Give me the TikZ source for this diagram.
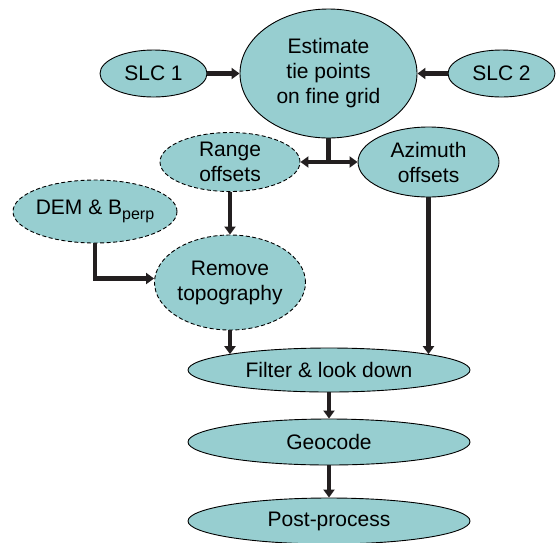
\documentclass[tikz,border=0pt]{standalone}
\usepackage{fontspec}
\setmainfont{Liberation Sans}
\usetikzlibrary{shapes.geometric,arrows.meta,calc}
\definecolor{tealfill}{RGB}{151,206,208}
\definecolor{arrowc}{RGB}{35,31,32}
\begin{document}
\begin{tikzpicture}[x=1pt,y=-1pt,
  ell/.style={ellipse,draw=black,line width=0.9pt,fill=tealfill,inner sep=-8pt,align=center,font=\fontsize{21}{25}\selectfont},
  dsh/.style={dash pattern=on 4pt off 2.5pt},
  shaft/.style={draw=arrowc,line width=4.5pt},
  flow/.style={shaft,-{Triangle[length=8pt,width=11pt]}},
  both/.style={shaft,{Triangle[length=8pt,width=11pt]}-{Triangle[length=8pt,width=11pt]}},
  ]
\useasboundingbox (0,0) rectangle (556,542);
\node[ell,minimum width=107pt,minimum height=47pt] (slc1) at (153.5,73.5) {SLC 1};
\node[ell,minimum width=177pt,minimum height=129pt] (est) at (328.5,73.5) {Estimate\\tie points\\on fine grid};
\node[ell,minimum width=107pt,minimum height=47pt] (slc2) at (501.5,73.5) {SLC 2};
\node[ell,dsh,minimum width=140pt,minimum height=59pt] (range) at (230,162) {Range\\offsets};
\node[ell,minimum width=141pt,minimum height=70pt] (azi) at (428.5,162) {Azimuth\\offsets};
\node[ell,dsh,minimum width=164pt,minimum height=63pt] (dem) at (95,211.5) {DEM \& B\raisebox{-5pt}{\fontsize{16}{16}\selectfont perp}};
\node[ell,dsh,minimum width=151pt,minimum height=95pt] (remove) at (230,282.5) {Remove\\topography};
\node[ell,minimum width=282pt,minimum height=44pt] (filter) at (329,370) {Filter \& look down};
\node[ell,minimum width=282pt,minimum height=46pt] (geo) at (329,442) {Geocode};
\node[ell,minimum width=282pt,minimum height=46pt] (post) at (329,521) {Post-process};

\draw[flow] (slc1) -- (est);
\draw[flow] (slc2) -- (est);
\coordinate (j) at (est.south |- range.east);
\draw[shaft] (est.south) -- (j);
\draw[both] (range.east) -- (azi.west);
\draw[flow] (range.south) -- (remove.north);
\draw[flow] (dem.south) |- ($(remove.west)+(0,-4)$);
\draw[flow] (remove.south) -- (remove.south |- filter.171);
\draw[flow] (azi.south) -- (azi.south |- filter.9);
\draw[flow] (filter) -- (geo);
\draw[flow] (geo) -- (post);
\end{tikzpicture}
\end{document}
